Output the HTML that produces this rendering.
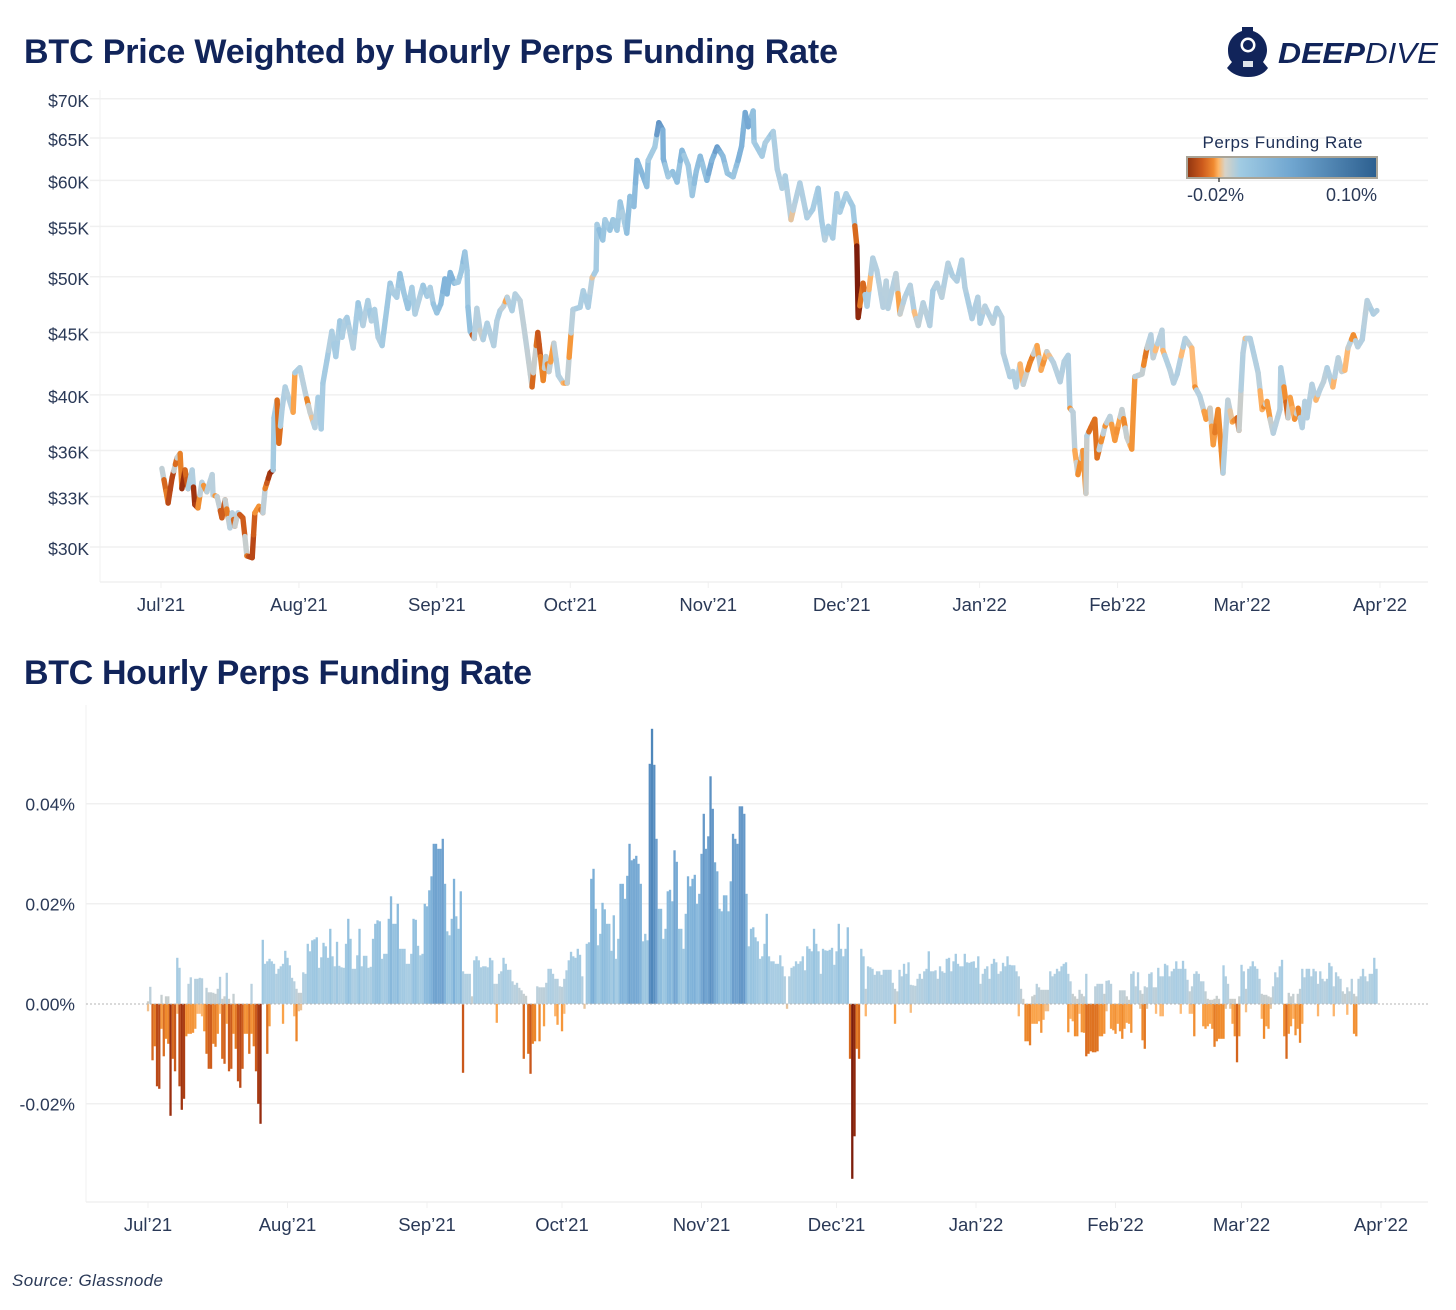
<!DOCTYPE html>
<html lang="en">
<head>
<meta charset="utf-8">
<title>BTC Price Weighted by Hourly Perps Funding Rate</title>
<style>
html,body{margin:0;padding:0;background:#fff;width:1456px;height:1310px;overflow:hidden}
svg{display:block;font-family:"Liberation Sans",sans-serif}
.tick{font-size:17.5px;fill:#2a3957}
.title{font-size:34px;font-weight:700;fill:#11245a}
</style>
</head>
<body>
<svg id="chart" xmlns="http://www.w3.org/2000/svg" width="1456" height="1310" viewBox="0 0 1456 1310">
  <defs>
    <linearGradient id="legendGradient" x1="0" x2="1" y1="0" y2="0">
      <stop offset="0" stop-color="#8f3410"/>
      <stop offset="0.08" stop-color="#cc5a1c"/>
      <stop offset="0.14" stop-color="#f08a30"/>
      <stop offset="0.165" stop-color="#fdb566"/>
      <stop offset="0.2" stop-color="#d8d2c6"/>
      <stop offset="0.28" stop-color="#a0cbe3"/>
      <stop offset="0.55" stop-color="#70a6d0"/>
      <stop offset="1" stop-color="#2c5f8f"/>
    </linearGradient>
  </defs>
  <text class="title" x="24" y="63" textLength="814" lengthAdjust="spacing">BTC Price Weighted by Hourly Perps Funding Rate</text>
  <text class="title" x="24" y="684" textLength="508" lengthAdjust="spacing">BTC Hourly Perps Funding Rate</text>
  <g id="priceGrid"></g>
  <g id="priceLine"></g>
  <g id="fundGrid"></g>
  <g id="fundBars"></g>
  <line x1="86" x2="1428" y1="1004" y2="1004" stroke="#b4b4b4" stroke-width="1" stroke-dasharray="2 2"/>
  <g>
    <text x="1282.5" y="148" text-anchor="middle" font-size="17" fill="#1d2f55" textLength="160" lengthAdjust="spacing">Perps Funding Rate</text>
    <rect x="1187" y="157" width="190" height="21" fill="url(#legendGradient)" stroke="#a9a497" stroke-width="2"/>
    <line x1="1219" x2="1219" y1="178" y2="182" stroke="#222" stroke-width="1.2"/>
    <text x="1187" y="201" font-size="18" fill="#2a3957">-0.02%</text>
    <text x="1377" y="201" font-size="18" fill="#2a3957" text-anchor="end">0.10%</text>
  </g>
  <g fill="#11245a">
    <path d="M1242 27h11v4c9 3 14 11 14 19 0 5-2 9-4 12l5 6c-4 6-11 9-20 9s-16-3-21-9l5-6c-3-3-4-7-4-12 0-8 5-16 14-19z"/>
    <circle cx="1248" cy="45" r="7.5" fill="#fff"/>
    <circle cx="1248" cy="45" r="5" fill="#11245a"/>
    <rect x="1243" y="61" width="10" height="6" fill="#dfe3ea"/>
    <text x="1278" y="63" font-size="29" font-weight="700" font-style="italic" textLength="87" lengthAdjust="spacingAndGlyphs">DEEP</text>
    <text x="1365" y="63" font-size="29" font-style="italic" textLength="73" lengthAdjust="spacingAndGlyphs">DIVE</text>
  </g>
  <text x="12" y="1286" font-size="17" font-style="italic" fill="#2a3957" textLength="151" lengthAdjust="spacing">Source: Glassnode</text>
</svg>
<script>
const monthLabels = ["Jul\u201921","Aug\u201921","Sep\u201921","Oct\u201921","Nov\u201921","Dec\u201921","Jan\u201922","Feb\u201922","Mar\u201922","Apr\u201922"];
const monthDays = [0,31,62,92,123,153,184,215,243,274];
const priceTicks = [30,33,36,40,45,50,55,60,65,70];
const fundingTicks = [-0.02,0,0.02,0.04];

// Days since 1 Jul 2021
const priceDays = [
0.2,1.6,2.5,3.6,4.3,4.7,5.4,6.1,7,7.6,
8.3,9.2,10.3,11.5,11.7,12.6,13.7,14.4,15.5,16,
16.6,17.3,18.4,19.3,20.5,21.1,22,22.9,23.4,24.5,
25.2,25.4,26.1,26.5,27.2,27.9,29.7,30.1,31.2,32.4,
33.5,34.6,35.3,36,36.4,37.3,38.4,39.3,40.2,40.7,
41.3,41.8,43.2,44.3,45.4,46.5,47.3,48,48.8,49.7,
50.8,51.5,52.2,53,53.7,54.6,55.5,56.4,57.1,58.9,
59.8,60.5,61.2,62,62.9,63.8,64.3,65,65.9,66.8,
67.5,68.3,68.8,69,69.5,70.4,71,71.7,72.4,73.3,
74.8,75.5,76.2,77,77.8,78.9,79.6,80.7,82.3,83.4,
84,84.7,85.3,85.9,86.5,87.2,88.3,89.3,90.4,91.3,
92.6,94.2,94.9,96,96.9,97.8,98,99.3,99.8,100.9,
101.6,102.5,103.2,104.7,105.4,106.3,107,109.2,109.5,111,
111.9,112.8,112.9,114,115,116,117.1,118.5,119.4,120.3,
121.2,122.7,123.8,125,126.3,127.3,128.6,129.7,130.5,131.3,
132,133.1,133.3,135.1,135.8,137.6,138.5,139.6,140.3,141.6,
143.6,144.4,145.2,146.5,147.7,148.5,149.2,150,151,151.9,
152.6,154,155.5,156.4,156.7,157.8,158.7,160,160.9,162.3,
163,163.4,165.2,166.1,167.2,168.4,169.3,170.2,171.3,172.8,
173.5,174.4,175.5,176.9,177.9,178.9,180,180.7,182.3,183.6,
184.1,185.2,187,187.9,189,189.3,190.8,191.5,192.2,193.1,
193.8,195.3,196.9,197.8,199.1,200.6,202.1,203,203.9,204.3,
205,205.4,206.1,207.2,207.9,208.1,209.9,210.4,212.2,213.3,
214.4,216,217.1,218.2,218.9,220.5,221.6,222.5,223,225,
225.2,226.8,227.6,228.4,230.2,231.7,232.4,233.5,234.9,235.8,
236.5,237.6,238.7,239.8,240.8,241.9,242.3,243.2,243.7,244.8,
246.6,247.5,248.6,249.3,250,251.5,251.7,252.4,253.3,253.8,
254.8,255.6,256.5,257.1,257.6,258.7,259.6,260.5,261.3,262.1,
263.4,264.6,265.4,266.1,266.8,268,269,270,271.1,272.5,
273.3];

// BTC price in $K
const priceValues = [
34.8,32.6,34.2,35.5,35.8,33.5,34.7,33.5,34.7,32.5,
32.3,33.9,33.3,34.4,33.1,33,31.7,32.8,31.1,32,
31.2,32,31.7,29.5,29.4,32,32.4,32,33.5,34.5,
34.7,38.3,39.6,36.5,38.9,40.6,38.7,41.7,42.1,40.2,
38.7,37.6,39.8,37.5,40.9,42.7,45.1,43,46,44.6,
46,46.3,43.7,47.6,45.6,47.8,46,47,44.6,43.9,
47.2,49.4,48.5,48.1,50.3,48.5,47.1,49,46.6,49.2,
48.2,49,47.5,46.7,47.5,49.8,48.4,50.4,49.4,49.5,
50.5,52.4,50.6,47.2,45.1,44.5,47.1,45.2,44.4,45.8,
43.9,46,46.9,47.3,48.1,46.9,48.4,47.8,43.5,40.6,
42.8,45,43,41.1,43,41.8,44.1,41.5,40.9,40.9,
47,47.2,48.7,47.2,49.9,50.6,55.2,53.6,55.7,54.6,
55.7,54.6,57.6,54.3,58.2,57.1,62.3,59.3,62.3,63.9,
66.9,66,62.5,60.4,61,59.8,63.5,61.7,58.3,61,
62.8,60,62.3,63.9,62.8,60.8,60.4,62.3,64,68.2,
66.4,68.4,64.5,62.8,64.4,65.8,61.3,59.1,60.5,55.7,
59.7,57.8,55.9,56.8,59.1,55.6,53.6,55,53.8,58.5,
56.5,58.5,57.1,53,46.3,49.4,47.3,51.8,50.6,47.2,
49.6,47.1,50.3,46.6,48.1,49.2,46.8,45.6,47.6,45.6,
48.7,49.4,48.1,51.3,50.1,49.6,51.6,49,46.2,48.1,
45.8,47.3,45.8,47.1,46.3,43.3,41.4,41.8,40.6,42.4,
40.8,42.5,43.9,41.9,43.4,42.5,41,42.6,43.1,39,
38.7,36,34.4,36,33.2,37,38.2,35.5,37.7,38.4,
36.7,38.9,36.9,36.1,41.4,41.6,43.7,44.8,42.9,45.2,
43.5,41.9,40.9,41.6,44.5,43.7,40.6,39.9,38.2,39,
36.4,38.9,34.5,39.6,38,38.3,37.4,43.3,44.5,44.5,
41.7,38.9,39.5,38.2,37.2,38.9,42.1,40.6,38.3,39.8,
38.2,39,37.6,39.5,38.3,40.8,39.6,40.4,41,42.1,
40.6,42.9,41.8,41.9,43.7,44.8,43.8,44.4,47.8,46.6,
46.9];

// Funding rate in thousandths of a percent, one value per 12 hours from 1 Jul 2021
const fundingValues = [
-1.5,3.4,-11.3,-8.5,-16.5,-17,1.8,-10.5,1.5,-8,
-22.4,-11,-13.5,9.2,7.2,-21.2,-19,-6.5,4,5.3,
-5.8,5,5,5.2,5.1,-5.5,3.2,-13,-13,2.2,
-8.6,3,5.4,-11,1.5,6.2,-13.5,-13,2,-9,
-15.5,-16.8,-13,-6,-6,-10,4,-8.5,-13.5,-20,
-24,12.8,8,-10,9,8.5,8,6,7,7.5,
-4,10.6,9.2,7.7,5.2,4.5,-7.5,2.2,-1.3,6.3,
6,12,10.5,12.7,12.9,13.3,7.2,9.3,12.2,11.5,
9.2,15,9.5,7.5,12.4,7.6,7.3,7.2,12,17,
13,7,7,9.7,15,7.5,9.6,9.6,7.2,7.4,
13,16,16.7,16.5,9,10,10,17,21.5,16,
16,20,11,11,11,8,8,10,17,16.8,
11.6,9.7,10,20,19.5,22.7,25.5,32,32,31,
31,33,24,14.5,13.7,17,25,17.5,15,22.5,
-13.8,6,6,6,1.5,8.7,9.5,8.7,7.3,7.5,
7.5,7.3,9.2,8.7,4,-3.8,6,6.5,9.2,8,
6.8,6.8,4.5,3.8,4.2,3.2,2.7,-11,1.6,-10,
-14,-8,-7.5,3.5,-7.5,3.3,-4.5,4.2,7,7,
6,-2.5,-4.2,3.5,-5.5,5,6.7,8.7,10.4,9.5,
9.2,11,9.8,5.5,-1,12,12.3,25,27,19,
11.7,14,20.2,18.9,16,16,10.6,17.7,9,13,
24,24,21,25.6,32,28.7,29,29.6,28,24,
12.5,14,12.7,48,55,47.8,33,19,19,13,
15,22.5,22.8,20.5,30.7,28.4,15,15,11,18,
25.5,23.5,25,25.8,20,22,30,38,31,33.5,
45.5,39,28.3,26.5,19,18.5,21.7,21.7,18.5,24.5,
34,33,32,39.5,39.5,38,22,11.5,15,15.3,
13.3,12.5,9,9.5,12,18,9.5,8.5,8.5,8,
8,9.7,7.5,5.5,-1,5.5,7.2,7.5,8.5,8,
8.5,9.5,6.7,11.5,11,10.5,15,12,10.5,6,
11,10.7,10.6,10.8,11.2,7.8,10.5,16,11,9.5,
11,15.3,-11,-35,-26.5,-9,-11,11,9.5,-2.5,
7.5,7.3,7,5.8,6.5,6.5,5.8,6.8,6.8,6.8,
6.8,4.2,-4,2.5,6.8,5.5,8,6,8.3,-1.8,
3.7,3.6,5,6,5,6.5,7,10.5,6.5,6.5,
6.7,5,7.5,6.5,6.2,9,9.2,6.5,8.5,10,
8,7.5,7.5,10,8.3,8.2,8.4,8.5,7.2,9.5,
4,6,7,7.5,5,8,9,8.3,6,6.5,
8.2,7.5,9.5,7.8,7.7,7.7,6.5,-2.5,3,1,
-7.5,-7.5,-8.3,1.5,-4,4,-3.5,-5.8,-3.2,2.8,
-1.5,6.5,5.5,6,7,6.5,7.5,8,8.3,-5.7,
4.5,-3.5,1.5,-6.5,2.8,-5.7,1.5,6,-10,-9.5,
-9.7,-9.7,4,-6.5,4,-6,4.6,4.7,-5,-5.3,
-6,-4,2.7,-7,2.7,1.5,-4,-5.8,6.5,3.5,
6.3,2.7,-7.3,-9,3.3,6,6.3,3.3,-2,7.2,
5.5,-2.5,8,7.7,5.5,6.5,7,8.5,7,-2,
8.6,7,4.8,2.5,-2,-6.5,6.5,6,4.5,-4.5,
-5,-4.5,0.8,-5,-8.6,-7.5,-7,-7,7.7,5.5,
4,-1,-4,-6.5,-11.7,1.5,7.8,6.5,-1.7,7,
7.5,8.5,7.5,7,5,-3,-7,1.8,-5,1.3,
3.5,6.3,5.3,7.5,8.8,-6.5,-11,2.2,-4.5,-3,
-6.3,2,-7.8,7,5.3,7,7,5.5,7,6.5,
-2.5,6.5,5,4.5,5,8.2,7.5,-2.5,6.3,5.5,
5,2.5,2,-2.2,2.5,5,-6,-6.5,5,5.5,
7,5.5,4.5,6,6,9.2,7
];

// Hourly readings of the opposite sign inside the same 12-hour slot
const oppositeSlots = [0,6,8,9,13,14,18,19,21,22,23,24,26,27,28,29,30,31,32,33,34,35,36,38,46,53,54,60,65,66,67,68,140,155,167,174,176,181,182,184,185,319,332,339,
387,393,394,395,396,397,398,399,400,409,410,411,412,413,414,415,416,417,421,422,423,424,425,426,428,432,433,434,435,436,437,441,442,443,444,448,450,451,459,463,464,465,469,470,471,472,473,474,475,476,478,479,481,482,483,485,488,495,496,497,498,499,507,508,509,511,512,513,520,527,533,536,537];
const oppositeValues = [0.5,-5,-7,1.5,-2,-16.5,-6,-6,-5,-2,-2,-2.5,-10,2.3,2.3,-8,2,-6,-2,1,-12,-4,1,-6,-6,8.5,-4.5,8,-2.5,3,-1.5,2.2,6.5,4,2,3.3,3.3,5,5,3.4,-2,3,3,3.8,
5.5,-4,1.8,-4,3.3,2.8,2.8,-1.5,2.8,6,-3,2,-6.5,1,-2,2,-5.8,-10.5,3.5,-9.5,4,-6.5,2,-1.5,4,-5.5,2.7,-5,-3.8,0.8,6,-1,2,3.5,-1,3.3,-2.5,5.5,7,-2,3.5,6,4.5,2.5,1,-4,0.8,1,1.6,1,-7,-1,1,1,1,-6.5,3,2,1.8,-4.5,1.5,-1,-6,1.5,2,-5,3,-4,4,3.5,3.3,2,1.5];

const colorStops = [-35,-22,-15,-10,-7,-4,-2,0,4,8,15,25,35,55,100];
const colorRamp = ["#7d1d0b","#9a2f0e","#c4511a","#dc6f1f","#ef8a2c","#faa34a","#fdbb78","#cfccc4","#b9d0de","#a9cde3","#98c4e0","#7fb2d9","#6a9ccb","#4f87bb","#2c5f8f"];

const SVG_NS = "http://www.w3.org/2000/svg";
const xTop = d => 161 + 4.449 * d;
const xBottom = d => 148 + 4.5 * d;
const yPrice = p => 547 - 529 * Math.log(p / 30);
const yFund = v => 1003.8 - 5000 * v;

function hexRgb(h){ return [1,3,5].map(k => parseInt(h.substr(k,2),16)); }
function colorFor(v){
  if (v <= colorStops[0]) return colorRamp[0];
  for (let k = 1; k < colorStops.length; k++) {
    if (v <= colorStops[k]) {
      const t = (v - colorStops[k-1]) / (colorStops[k] - colorStops[k-1]);
      const a = hexRgb(colorRamp[k-1]), b = hexRgb(colorRamp[k]);
      return "rgb(" + a.map((c,j) => Math.round(c + (b[j]-c)*t)).join(",") + ")";
    }
  }
  return colorRamp[colorRamp.length-1];
}
function make(parent, tag, attrs){
  const el = document.createElementNS(SVG_NS, tag);
  for (const key in attrs) el.setAttribute(key, attrs[key]);
  parent.appendChild(el);
  return el;
}

const priceGrid = document.getElementById("priceGrid");
const fundGrid = document.getElementById("fundGrid");
const priceLine = document.getElementById("priceLine");
const fundBars = document.getElementById("fundBars");
const GRID = "#f0f0f0";

// Top chart axes
const topLeftAxis = make(priceGrid, "line", {x1:100,x2:100,y1:90,y2:582,stroke:GRID,"stroke-width":1});


const topBottomAxis = make(priceGrid, "line", {x1:100,x2:1428,y1:582,y2:582,stroke:GRID,"stroke-width":1.5});


priceTicks.forEach(p => {
  const y = yPrice(p);
  const grid = make(priceGrid, "line", {x1:90,x2:1428,y1:y,y2:y,stroke:GRID,"stroke-width":1.5});
  
  
  const label = make(priceGrid, "text", {x:89,y:y+8,"text-anchor":"end",class:"tick"});
  
  
  label.textContent = "$" + p + "K";
});
monthDays.forEach((d,i) => {
  const x = xTop(d);
  const tick = make(priceGrid, "line", {x1:x,x2:x,y1:582,y2:588,stroke:GRID,"stroke-width":1});
  
  
  const label = make(priceGrid, "text", {x:x,y:611,"text-anchor":"middle",class:"tick"});
  
  
  label.style.fontSize = "18.5px";
  label.textContent = monthLabels[i];
});

// Bottom chart axes
const botLeftAxis = make(fundGrid, "line", {x1:86,x2:86,y1:705,y2:1202,stroke:GRID,"stroke-width":1});


const botBottomAxis = make(fundGrid, "line", {x1:86,x2:1428,y1:1202,y2:1202,stroke:GRID,"stroke-width":1.5});


fundingTicks.forEach(v => {
  const y = yFund(v);
  if (v !== 0) {
    const grid = make(fundGrid, "line", {x1:86,x2:1428,y1:y,y2:y,stroke:GRID,"stroke-width":1.5});
    
    
  }
  const label = make(fundGrid, "text", {x:75,y:y+6.5,"text-anchor":"end",class:"tick"});
  
  
  label.textContent = v.toFixed(2) + "%";
});
monthDays.forEach((d,i) => {
  const x = xBottom(d);
  const tick = make(fundGrid, "line", {x1:x,x2:x,y1:1202,y2:1208,stroke:GRID,"stroke-width":1});
  
  
  const label = make(fundGrid, "text", {x:x,y:1231,"text-anchor":"middle",class:"tick"});
  
  
  label.style.fontSize = "18.5px";
  label.textContent = monthLabels[i];
});

// Funding bars
function drawBar(slot, raw){
  const x = xBottom(slot / 2);
  const y0 = yFund(0), y1 = yFund(raw / 1000);
  const bar = make(fundBars, "rect", {x:x-1.12,y:Math.min(y0,y1),width:2.3,height:Math.abs(y1-y0),fill:colorFor(raw)});
  
  
}
fundingValues.forEach((raw,i) => drawBar(i, raw));
oppositeSlots.forEach((slot,i) => drawBar(slot, oppositeValues[i]));

// Price line, coloured by the funding rate at each moment
function fundingAt(day){
  const idx = Math.max(0, Math.min(fundingValues.length-1, Math.round(day*2)));
  const v = fundingValues[idx];
  return v > 0 ? v * 0.75 : v;
}
for (let k = 0; k < priceDays.length-1; k++) {
  const d0 = priceDays[k], d1 = priceDays[k+1];
  const p0 = priceValues[k], p1 = priceValues[k+1];
  const steps = Math.max(1, Math.ceil((d1-d0)*2));
  for (let s = 0; s < steps; s++) {
    const a = s/steps, b = (s+1)/steps;
    const da = d0+(d1-d0)*a, db = d0+(d1-d0)*b;
    const pa = p0+(p1-p0)*a, pb = p0+(p1-p0)*b;
    const seg = make(priceLine, "line", {x1:xTop(da),y1:yPrice(pa),x2:xTop(db),y2:yPrice(pb),stroke:colorFor(fundingAt((da+db)/2)),"stroke-width":5.4,"stroke-linecap":"round"});
    
    
  }
}
</script>
</body>
</html>
